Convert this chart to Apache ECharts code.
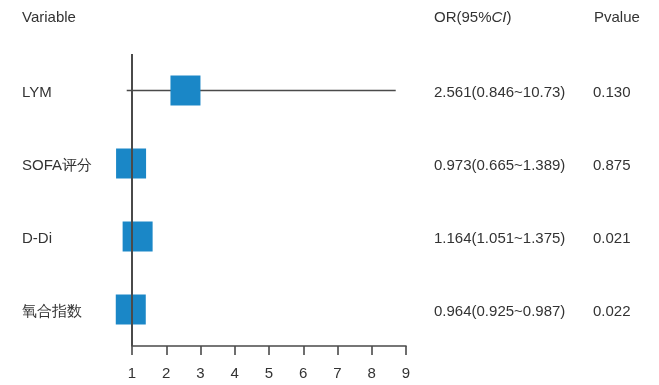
<!DOCTYPE html>
<html>
<head>
<meta charset="utf-8">
<script src="https://cdn.jsdelivr.net/npm/echarts@6/dist/echarts.min.js"></script>
<style>
  html, body { margin: 0; padding: 0; background: #fff; }
  #chart { width: 659px; height: 385px; }
</style>
</head>
<body>
<div id="chart"></div>
<script>
// Forest plot: odds ratios with 95% confidence intervals
const variables = ['LYM', 'SOFA评分', 'D-Di', '氧合指数'];
const orValues  = [2.561, 0.973, 1.164, 0.964];
const ciLower   = [0.846, 0.665, 1.051, 0.925];
const ciUpper   = [10.73, 1.389, 1.375, 0.987];
const pValues   = ['0.130', '0.875', '0.021', '0.022'];
const xTicks    = [1, 2, 3, 4, 5, 6, 7, 8, 9];
// whiskers that run past the plotting window are cut here (in OR units)
const whiskerLimit = 8.7;

const fontFamily = '"Liberation Sans", Arial, Helvetica, sans-serif';
const fontSize = 15;
const textColor = '#333';
const lineColor = '#4a4a4a';
const boxColor = '#1a87c7';

const orLabels = orValues.map((v, i) =>
  v.toFixed(3) + '(' + ciLower[i].toFixed(3) + '~' +
  (ciUpper[i] >= 10 ? ciUpper[i].toFixed(2) : ciUpper[i].toFixed(3)) + ')');

const rows = variables.map((name, i) => [orValues[i], i, ciLower[i], ciUpper[i]]);

const chart = echarts.init(document.getElementById('chart'));

chart.setOption({
  animation: false,
  backgroundColor: '#fff',
  grid: { left: 132, right: 253, top: 54, bottom: 39 },
  xAxis: {
    type: 'value',
    min: xTicks[0],
    max: xTicks[xTicks.length - 1],
    interval: 1,
    splitLine: { show: false },
    axisLine: { show: true, onZero: false, lineStyle: { color: lineColor, width: 1.6 } },
    axisTick: { show: true, inside: false, length: 9, lineStyle: { color: lineColor, width: 1.6 } },
    axisLabel: { color: textColor, fontSize: fontSize, fontFamily: fontFamily, margin: 20 }
  },
  yAxis: {
    type: 'value',
    min: -0.5,
    max: variables.length - 0.5,
    inverse: true,
    show: false
  },
  graphic: [
    { type: 'text', left: 22, top: 10, style: { text: 'Variable', fill: textColor, font: fontSize + 'px ' + fontFamily } },
    {
      type: 'text', left: 434, top: 10,
      style: {
        text: 'OR(95%{i|CI})',
        fill: textColor, font: fontSize + 'px ' + fontFamily,
        rich: { i: { fontStyle: 'italic', fontSize: fontSize, fontFamily: fontFamily, fill: textColor } }
      }
    },
    { type: 'text', left: 594, top: 10, style: { text: 'Pvalue', fill: textColor, font: fontSize + 'px ' + fontFamily } }
  ],
  series: [
    {
      // confidence-interval whiskers
      type: 'custom',
      clip: false,
      z: 1,
      data: rows,
      renderItem: function (params, api) {
        const lo = api.coord([api.value(2), api.value(1)]);
        const hi = api.coord([Math.min(api.value(3), whiskerLimit), api.value(1)]);
        return {
          type: 'line',
          shape: { x1: lo[0], y1: lo[1], x2: hi[0], y2: hi[1] },
          style: { stroke: lineColor, lineWidth: 1.6 }
        };
      },
      markLine: {
        silent: true,
        symbol: 'none',
        label: { show: false },
        lineStyle: { color: lineColor, width: 2, type: 'solid' },
        data: [{ xAxis: 1 }]
      }
    },
    {
      // point estimates
      type: 'scatter',
      clip: false,
      z: 3,
      symbol: 'rect',
      symbolSize: 30,
      itemStyle: { color: boxColor, opacity: 1 },
      data: rows.map(r => [r[0], r[1]])
    },
    {
      // table columns: variable name, OR (95% CI), p value
      type: 'custom',
      clip: false,
      silent: true,
      z: 4,
      data: rows,
      renderItem: function (params, api) {
        const i = params.dataIndex;
        const y = api.coord([1, api.value(1)])[1] + 2;
        const mk = (x, t) => ({
          type: 'text',
          x: x, y: y,
          style: { text: t, fill: textColor, font: fontSize + 'px ' + fontFamily, verticalAlign: 'middle' }
        });
        return {
          type: 'group',
          children: [mk(22, variables[i]), mk(434, orLabels[i]), mk(593, pValues[i])]
        };
      }
    }
  ]
});
</script>
</body>
</html>
